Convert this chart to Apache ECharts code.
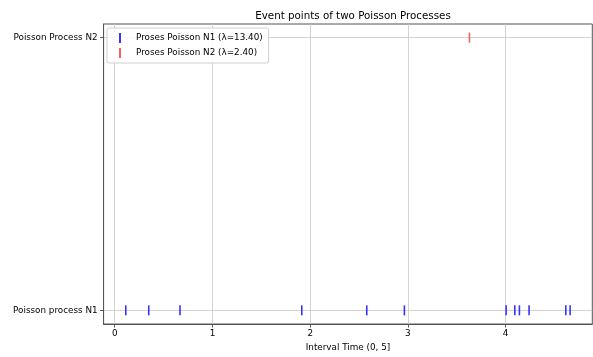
<!DOCTYPE html>
<html>
<head>
<meta charset="utf-8">
<script src="https://cdn.jsdelivr.net/npm/echarts@6/dist/echarts.min.js"></script>
<style>html,body{margin:0;padding:0;background:#fff}#c{width:593px;height:357px}</style>
</head>
<body>
<div id="c"></div>
<script>
const titleText = "Event points of two Poisson Processes";
const xAxisName = "Interval Time (0, 5]";
const yCategories = ["Poisson process N1", "Poisson Process N2"];
const xTicks = [0, 1, 2, 3, 4];
const n1Name = "Proses Poisson N1 (λ=13.40)";
const n2Name = "Proses Poisson N2 (λ=2.40)";
const n1Times = [0.113, 0.348, 0.668, 1.914, 2.579, 2.964, 4.005, 4.094, 4.141, 4.240, 4.616, 4.660];
const n2Times = [3.63];

const font = "DejaVu Sans";
const blue = '#1f1fff';
const red = '#f25050';
const chart = echarts.init(document.getElementById('c'), null, {renderer: 'canvas'});
const bar = 'path://M0,0 L1,0 L1,10 L0,10 Z';
chart.setOption({
  animation: false,
  backgroundColor: '#fff',
  title: {
    text: titleText, left: 348, textAlign: 'center', top: 6,
    textStyle: {fontFamily: font, fontSize: 10.3, fontWeight: 'normal', color: '#000'}
  },
  legend: {
    orient: 'vertical', left: 107, top: 28,
    backgroundColor: 'rgba(255,255,255,0.85)', borderColor: '#d0d0d0', borderWidth: 1, borderRadius: 2,
    padding: [5, 6, 5, 12], itemGap: 5, itemWidth: 2, itemHeight: 10, icon: 'rect',
    textStyle: {fontFamily: font, fontSize: 8.8, color: '#000', padding: [0, 0, 0, 10]},
    data: [n1Name, n2Name]
  },
  grid: {left: 103.6, right: 0.7, top: 24, bottom: 30, containLabel: false,
         show: true, borderColor: '#555', borderWidth: 1},
  xAxis: {
    type: 'value', min: -0.114, max: 4.887,
    name: xAxisName, nameLocation: 'middle', nameGap: 19,
    nameTextStyle: {fontFamily: font, fontSize: 8.8, color: '#000'},
    axisLine: {show: true, onZero: false, lineStyle: {color: '#555', width: 1}},
    axisTick: {show: true, customValues: xTicks, length: 3.5, lineStyle: {color: '#555'}},
    axisLabel: {customValues: xTicks, fontFamily: font, fontSize: 8.8, color: '#000', margin: 5},
    splitLine: {show: true, lineStyle: {color: '#c8c8c8', width: 0.8}}
  },
  yAxis: {
    type: 'value', min: -0.05, max: 1.05,
    axisLine: {show: true, onZero: false, lineStyle: {color: '#555', width: 1}},
    axisTick: {show: true, customValues: [0, 1], length: 3.5, lineStyle: {color: '#555'}},
    axisLabel: {customValues: [0, 1], fontFamily: font, fontSize: 8.8, color: '#000', margin: 6,
      formatter: v => yCategories[Math.round(v)]},
    splitLine: {show: true, lineStyle: {color: '#c8c8c8', width: 0.8}}
  },
  series: [
    {name: n1Name, type: 'scatter', symbol: bar, symbolSize: [1.6, 10],
     itemStyle: {color: blue, opacity: 0.9},
     data: n1Times.map(t => [t, 0])},
    {name: n2Name, type: 'scatter', symbol: bar, symbolSize: [1.6, 10],
     itemStyle: {color: red, opacity: 0.9},
     data: n2Times.map(t => [t, 1])}
  ]
});
</script>
</body>
</html>
